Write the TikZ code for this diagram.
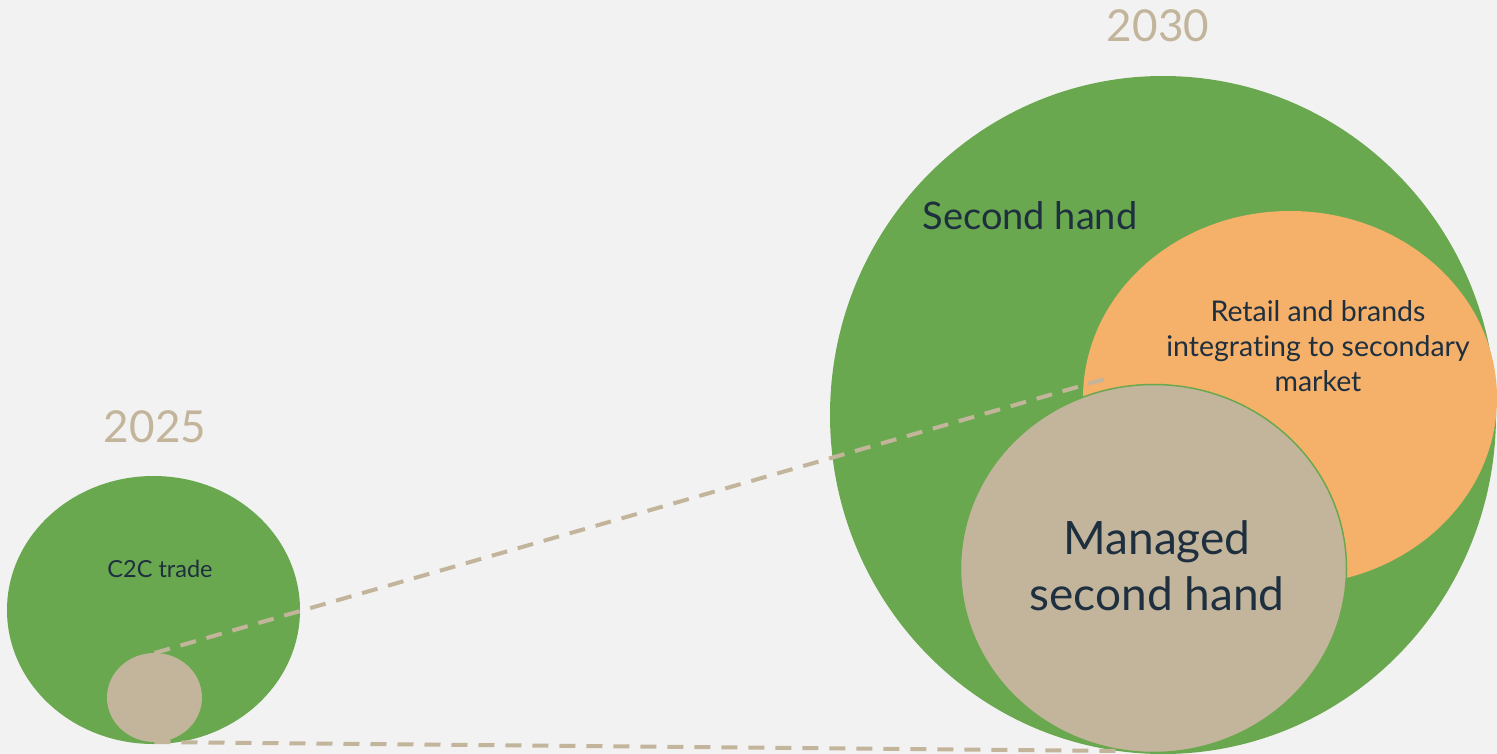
\documentclass[tikz,border=0pt]{standalone}
\usepackage{fontspec}
\setmainfont{Lato}[Ligatures=NoCommon]
\usetikzlibrary{shapes.geometric}
\definecolor{bg}{HTML}{F2F2F2}
\definecolor{grn}{HTML}{6AA84F}
\definecolor{org}{HTML}{F5B169}
\definecolor{bei}{HTML}{C3B59B}
\definecolor{ink}{HTML}{1E2F3F}
\tikzset{
  blob/.style={ellipse, inner sep=0pt, outer sep=0pt},
  year/.style={text=bei, font=\fontsize{44}{48}\selectfont},
  lbl/.style={text=ink, align=center, inner sep=0pt},
  link/.style={draw=bei, line width=4pt, dash pattern=on 16pt off 11pt}
}
\begin{document}
\begin{tikzpicture}[x=1pt,y=-1pt]
\fill[bg] (0,0) rectangle (1497,754);
\useasboundingbox (0,0) rectangle (1497,754);
% 2025
\node[blob, fill=grn, minimum width=293pt, minimum height=268pt] (sg) at (153.5,610) {};
\node[blob, fill=bei, minimum width=95pt, minimum height=89pt] (sb) at (154.5,697.5) {};
% 2030
\node[blob, fill=grn, minimum width=666pt, minimum height=678pt] (bg) at (1163,415) {};
\node[blob, fill=org, minimum width=414pt, minimum height=374pt] (bo) at (1290,398) {};
\node[blob, fill=bei, draw=grn, line width=1.5pt, minimum width=386pt, minimum height=368pt] (bb) at (1153.5,568.5) {};
% texts
\node[year] (y30) at (1158,26) {2030};
\node[year] (y25) at (155,427) {2025};
\node[lbl, anchor=base, font=\fontsize{38}{42}\selectfont] (t1) at (1030,230) {Second hand};
\node[lbl, font=\fontsize{28.5}{35}\selectfont] (t2) at (1318,346) {Retail and brands\\integrating to secondary\\market};
\node[lbl, font=\fontsize{46}{56}\selectfont] (t3) at (1157,566) {Managed\\second hand};
\node[lbl, anchor=base, font=\fontsize{23.5}{26}\selectfont] (t4) at (160,577) {C2C trade};
% links
\coordinate (e1) at (1112,377);
\coordinate (e2) at (1120,751);
\draw[link] (sb.north) -- (e1);
\draw[link] (sb.south) -- (e2);
\end{tikzpicture}
\end{document}
